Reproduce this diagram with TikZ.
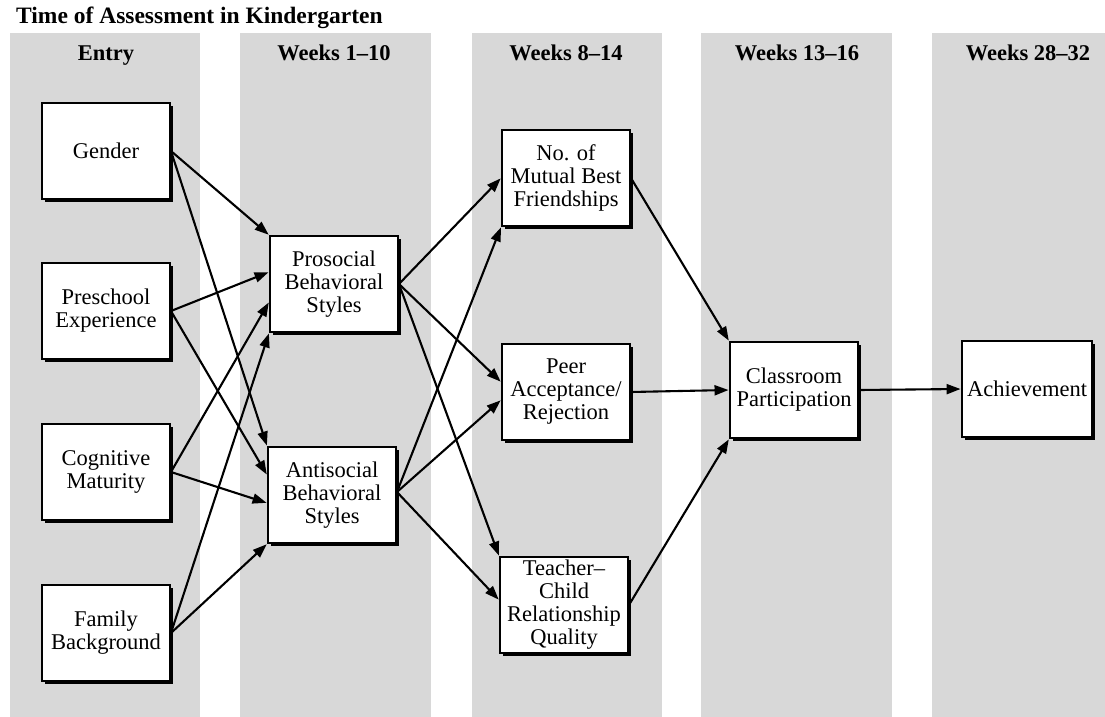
\documentclass[tikz,border=0pt]{standalone}
\usepackage{fontspec}
\setmainfont{Liberation Serif}
\usetikzlibrary{arrows.meta,shadows}
\definecolor{band}{RGB}{216,216,216}
\tikzset{
  band/.style={fill=band, draw=none},
  head/.style={font=\fontsize{22.5}{24}\selectfont\bfseries, anchor=base},
  varbox/.style={draw=black, line width=1.9pt, fill=white, rectangle,
    minimum width=128pt, minimum height=96pt, inner sep=0pt, align=center,
    font=\fontsize{22.5}{23}\selectfont,
    general shadow={fill=black, shadow xshift=3pt, shadow yshift=-3pt}},
  arr/.style={line width=2.1pt, -{Triangle[length=14pt,width=10pt]}, shorten >=0.5pt}
}
\begin{document}
\begin{tikzpicture}[x=1pt, y=-1pt]
\useasboundingbox (0,0) rectangle (1105,717);

% time bands
\fill[band] (10,33) rectangle (200,717);
\fill[band] (240,33) rectangle (431,717);
\fill[band] (472,33) rectangle (662,717);
\fill[band] (701,33) rectangle (892,717);
\fill[band] (932,33) rectangle (1105,717);

% title and band headings
\node[font=\fontsize{23.5}{25}\selectfont\bfseries, anchor=base west, inner sep=0pt] (title) at (16,24) {Time of Assessment in Kindergarten};
\node[head] (h1) at (106,61) {Entry};
\node[head] (h2) at (334,61) {Weeks 1--10};
\node[head] (h3) at (566,61) {Weeks 8--14};
\node[head] (h4) at (797,61) {Weeks 13--16};
\node[head] (h5) at (1028,61) {Weeks 28--32};

% variables
\node[varbox] (gen) at (106,151) {Gender};
\node[varbox] (pre) at (106,311) {Preschool\\Experience};
\node[varbox] (cog) at (106,472) {Cognitive\\Maturity};
\node[varbox] (fam) at (106,633) {Family\\Background};

\node[varbox] (pro) at (334,284) {Prosocial\\Behavioral\\Styles};
\node[varbox] (ant) at (332,495) {Antisocial\\Behavioral\\Styles};

\node[varbox] (mut) at (566,178) {No. of\\Mutual Best\\Friendships};
\node[varbox] (peer) at (566,392) {Peer\\Acceptance/\\Rejection};
\node[varbox] (tea) at (564,605) {Teacher--\\Child\\Relationship\\Quality};

\node[varbox] (cls) at (794,390) {Classroom\\Participation};
\node[varbox, minimum width=130pt] (ach) at (1027,389) {Achievement};

% entry -> weeks 1-10
\draw[arr] (gen.east) -- (pro.north west);
\draw[arr] (gen.east) -- (ant.north west);
\draw[arr] (pre.east) -- ([yshift=12pt]pro.west);
\draw[arr] (pre.east) -- ([yshift=20pt]ant.west);
\draw[arr] (cog.east) -- ([yshift=-18pt]pro.west);
\draw[arr] (cog.east) -- ([yshift=-8pt]ant.west);
\draw[arr] (fam.east) -- (pro.south west);
\draw[arr] (fam.east) -- (ant.south west);

% weeks 1-10 -> weeks 8-14
\draw[arr] (pro.east) -- (mut.west);
\draw[arr] (pro.east) -- ([yshift=10pt]peer.west);
\draw[arr] (pro.east) -- (tea.north west);
\draw[arr] ([yshift=3pt]ant.east) -- (mut.south west);
\draw[arr] ([yshift=3pt]ant.east) -- ([yshift=-8pt]peer.west);
\draw[arr] ([yshift=3pt]ant.east) -- ([yshift=5pt]tea.west);

% weeks 8-14 -> weeks 13-16 -> weeks 28-32
\draw[arr] (mut.east) -- (cls.north west);
\draw[arr] (peer.east) -- (cls.west);
\draw[arr] (tea.east) -- (cls.south west);
\draw[arr] (cls.east) -- (ach.west);
\end{tikzpicture}
\end{document}
